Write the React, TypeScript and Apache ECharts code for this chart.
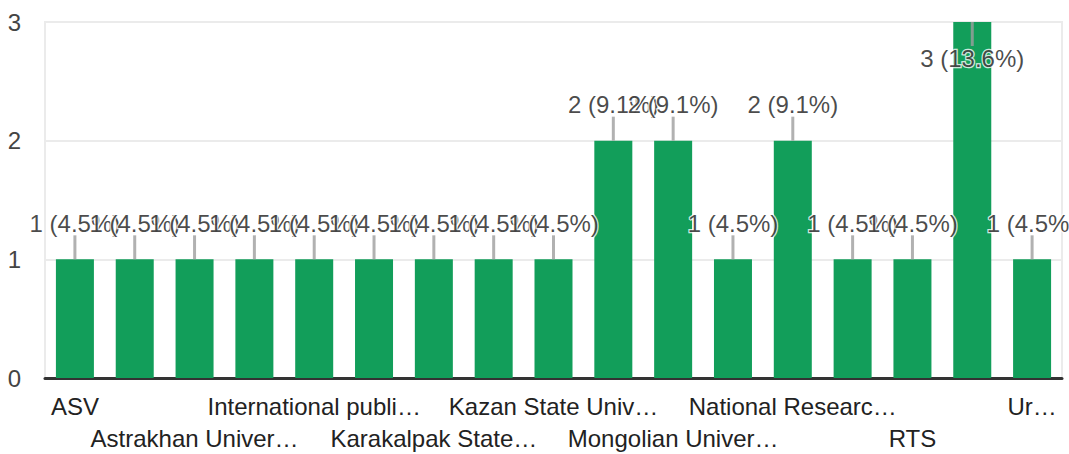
import React, { useEffect, useRef } from "react";
import * as echarts from "echarts";

const categories = [
  "ASV",
  "Astana IT University",
  "Astrakhan Univer…",
  "Bauman Moscow State Technical University",
  "International publi…",
  "Kabardino-Balkarian State University",
  "Karakalpak State…",
  "Kazakh National University",
  "Kazan State Univ…",
  "Moscow Aviation Institute",
  "Mongolian Univer…",
  "Moscow State University",
  "National Researc…",
  "Novosibirsk State University",
  "RTS",
  "Saint Petersburg State University",
  "Ur…",
];
const counts = [1, 1, 1, 1, 1, 1, 1, 1, 1, 2, 2, 1, 2, 1, 1, 3, 1];
const yTicks = [0, 1, 2, 3];

const FONT = "'Liberation Sans', Arial, Helvetica, sans-serif";

export default function App() {
  const ref = useRef<HTMLDivElement>(null);
  useEffect(() => {
    if (!ref.current) return;
    const chart = echarts.init(ref.current, undefined, { renderer: "svg" });
    const total = counts.reduce((a, b) => a + b, 0);
    const yMax = yTicks[yTicks.length - 1];
    const labelText = (v: number) => `${v} (${((v / total) * 100).toFixed(1)}%)`;
    chart.setOption({
      animation: false,
      grid: {
        left: 45,
        right: 7,
        top: 22,
        bottom: 75,
        show: true,
        borderColor: "#ebebeb",
        borderWidth: 2,
        containLabel: false,
      },
      xAxis: {
        type: "category",
        data: categories,
        axisLine: { show: true, lineStyle: { color: "#333333", width: 3 } },
        axisTick: { show: false },
        axisLabel: {
          interval: 0,
          margin: 12,
          fontSize: 24,
          lineHeight: 32,
          color: "#222222",
          fontFamily: FONT,
          formatter: (v: string, i: number) =>
            i % 4 === 0 ? v : i % 4 === 2 ? "\n" + v : "",
        },
      },
      yAxis: {
        type: "value",
        min: yTicks[0],
        max: yMax,
        interval: 1,
        axisLine: { show: false },
        axisTick: { show: false },
        axisLabel: {
          margin: 24,
          fontSize: 24,
          color: "#444444",
          fontFamily: FONT,
        },
        splitLine: { lineStyle: { color: "#ebebeb", width: 2 } },
      },
      series: [
        {
          type: "bar",
          data: counts,
          barWidth: 38,
          itemStyle: { color: "#129e5a" },
        },
        {
          type: "scatter",
          symbol: "rect",
          symbolSize: [3, 24],
          itemStyle: { color: "#9e9e9e" },
          data: counts.map((v) => {
            const atTop = v >= yMax;
            return {
              value: v,
              symbolOffset: [0, atTop ? 12 : -12],
              label: {
                show: true,
                position: atTop ? "bottom" : "top",
                distance: 0,
                formatter: () => labelText(v),
                fontSize: 24,
                lineHeight: 24,
                color: "#1a1a1a",
                fontFamily: FONT,
                textBorderColor: "#ffffff",
                textBorderWidth: 2.5,
              },
            };
          }),
        },
      ],
    });
    return () => chart.dispose();
  }, []);
  return (
    <div
      ref={ref}
      style={{ position: "fixed", left: 0, top: 0, width: 1069, height: 454, background: "#ffffff" }}
    />
  );
}
